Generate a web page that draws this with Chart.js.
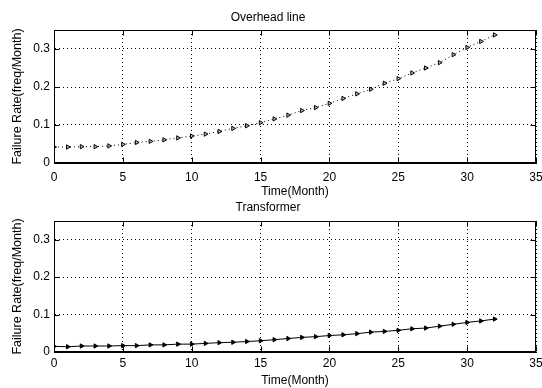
<!DOCTYPE html>
<html>
<head>
<meta charset="utf-8">
<script src="https://cdn.jsdelivr.net/npm/chart.js@4.4.1/dist/chart.umd.min.js"></script>
<style>
    html, body { margin: 0; padding: 0; background: #fff; }
    #wrap { position: relative; width: 542px; height: 388px; overflow: hidden; }
    canvas { position: absolute; left: 0; }
</style>
</head>
<body>
<div id="wrap">
    <canvas id="overhead-chart" width="542" height="200" style="top:0"></canvas>
    <canvas id="transformer-chart" width="542" height="194" style="top:194px"></canvas>
</div>
<script>
const
    MONTHS = [0, 1, 2, 3, 4, 5, 6, 7, 8, 9, 10, 11, 12, 13, 14, 15, 16,
              17, 18, 19, 20, 21, 22, 23, 24, 25, 26, 27, 28, 29, 30, 31, 32],
    OVERHEAD_RATE = [0.042, 0.042, 0.043, 0.043, 0.045, 0.049, 0.054, 0.057, 0.061, 0.066,
                     0.071, 0.076, 0.083, 0.091, 0.098, 0.106, 0.116, 0.126, 0.138, 0.146,
                     0.157, 0.170, 0.182, 0.194, 0.210, 0.222, 0.237, 0.250, 0.264, 0.285,
                     0.304, 0.320, 0.337],
    TRANSFORMER_RATE = [0.015, 0.014, 0.016, 0.016, 0.016, 0.017, 0.017, 0.019, 0.019, 0.021,
                        0.021, 0.023, 0.025, 0.026, 0.028, 0.030, 0.033, 0.036, 0.039, 0.041,
                        0.044, 0.046, 0.049, 0.053, 0.055, 0.058, 0.062, 0.064, 0.069, 0.074,
                        0.079, 0.083, 0.088],
    X_TICKS = [0, 5, 10, 15, 20, 25, 30, 35],
    Y_TICKS = [0, 0.1, 0.2, 0.3];

const FONT = 'Liberation Sans, Arial, Helvetica, sans-serif';

// matlab 스타일: 사방 테두리 + 안쪽으로 향하는 눈금
const matlabFrame = {
    id: 'matlabFrame',
    afterDraw(chart) {
        const { ctx, chartArea: a, scales: { x, y } } = chart;
        const L = Math.round(a.left) + 0.5, R = Math.round(a.right) - 0.5,
              T = Math.round(a.top) + 0.5, B = Math.round(a.bottom) - 0.5;
        ctx.save();
        ctx.strokeStyle = '#000';
        ctx.lineWidth = 1;
        ctx.strokeRect(L, T, R - L, B - T);
        ctx.beginPath();
        X_TICKS.forEach(v => {
            const px = Math.round(x.getPixelForValue(v)) + 0.5;
            ctx.moveTo(px, B); ctx.lineTo(px, B - 5);
            ctx.moveTo(px, T); ctx.lineTo(px, T + 5);
        });
        Y_TICKS.forEach(v => {
            const py = Math.round(y.getPixelForValue(v)) + 0.5;
            ctx.moveTo(L, py); ctx.lineTo(L + 5, py);
            ctx.moveTo(R, py); ctx.lineTo(R - 5, py);
        });
        ctx.stroke();
        ctx.restore();
    },
};

function createChart(canvas, title, data, dataset, layout) {
    return new Chart(canvas, {
        type: 'line',
        data: {
            datasets: [{
                data: MONTHS.map((m, i) => ({ x: m, y: data[i] })),
                borderColor: '#000',
                borderWidth: 1,
                pointStyle: 'triangle',
                rotation: 90,
                pointRadius: 2.5,
                pointBorderColor: '#000',
                pointBorderWidth: 1,
                ...dataset,
            }],
        },
        options: {
            responsive: false,
            animation: false,
            events: [],
            layout: { padding: { left: 0, right: 6, top: 0, bottom: 0 } },
            plugins: {
                legend: { display: false },
                tooltip: { enabled: false },
                title: {
                    display: true,
                    text: title,
                    color: '#000',
                    font: { family: FONT, size: 12, weight: 'normal' },
                    padding: layout.titlePadding,
                },
            },
            scales: {
                x: {
                    type: 'linear',
                    min: 0,
                    max: 35,
                    afterFit: s => { s.height = layout.xHeight; s.paddingLeft = 0; s.paddingRight = 0; },
                    ticks: {
                        stepSize: 5,
                        color: '#000',
                        padding: layout.xTickPadding,
                        maxRotation: 0,
                        font: { family: FONT, size: 12 },
                    },
                    grid: { color: '#000', lineWidth: 1, drawTicks: false },
                    border: { color: '#000', dash: [1, 3] },
                    title: {
                        display: true,
                        text: 'Time(Month)',
                        color: '#000',
                        font: { family: FONT, size: 12 },
                        padding: { top: 0, bottom: layout.xTitleBottom },
                    },
                },
                y: {
                    min: 0,
                    max: 0.35,
                    afterFit: s => { s.width = 54; s.paddingTop = 0; s.paddingBottom = 0; },
                    ticks: {
                        stepSize: 0.1,
                        includeBounds: false,
                        color: '#000',
                        padding: 4,
                        font: { family: FONT, size: 12 },
                        callback: v => v === 0 ? '0' : v.toFixed(1),
                    },
                    grid: { color: '#000', lineWidth: 1, drawTicks: false },
                    border: { color: '#000', dash: [1, 3] },
                    title: {
                        display: true,
                        text: 'Failure Rate(freq/Month)',
                        color: '#000',
                        font: { family: FONT, size: 12.5 },
                        padding: { top: 10, bottom: 0 },
                    },
                },
            },
        },
        plugins: [matlabFrame],
    });
}

createChart(
    document.getElementById('overhead-chart'),
    'Overhead line',
    OVERHEAD_RATE,
    { borderDash: [1, 3], pointBackgroundColor: '#bbb' },
    { titlePadding: { top: 10, bottom: 5.6 }, xHeight: 37, xTickPadding: 7, xTitleBottom: 1 }
);
createChart(
    document.getElementById('transformer-chart'),
    'Transformer',
    TRANSFORMER_RATE,
    { pointBackgroundColor: '#000' },
    { titlePadding: { top: 6.8, bottom: 5.8 }, xHeight: 36, xTickPadding: 4, xTitleBottom: 0 }
);
</script>
</body>
</html>
